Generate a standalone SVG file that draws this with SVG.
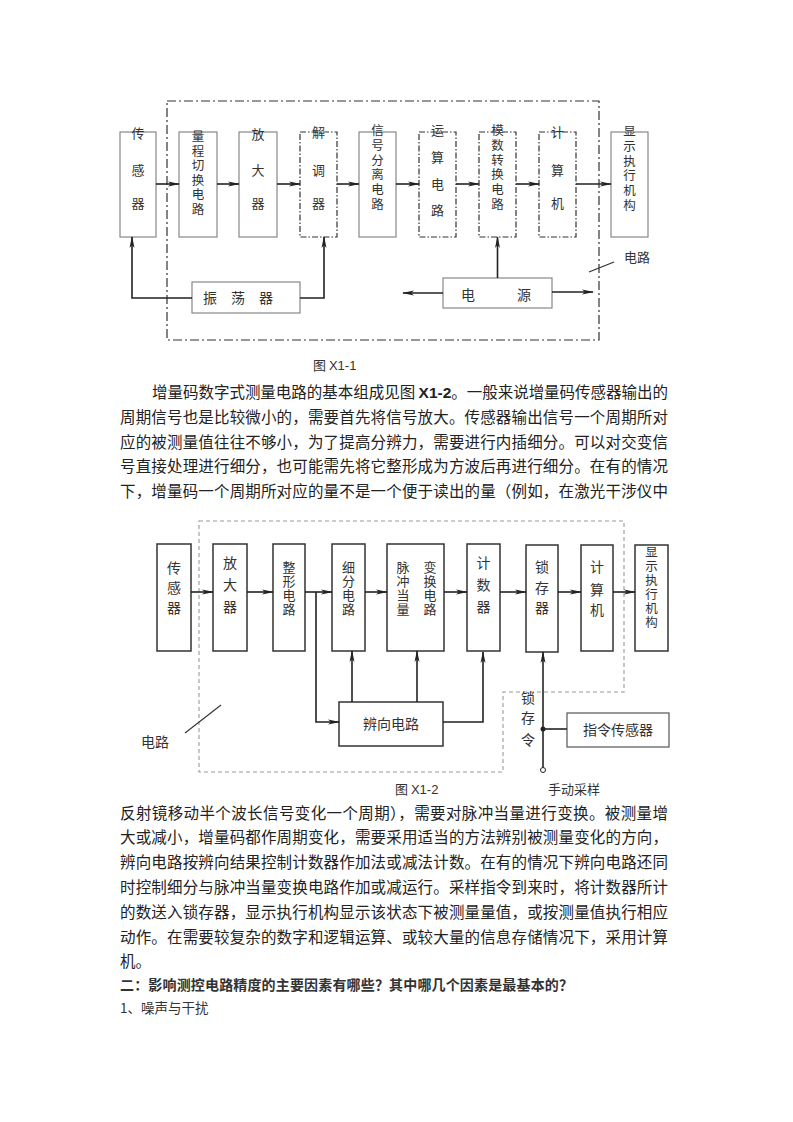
<svg xmlns="http://www.w3.org/2000/svg" width="793" height="1122" viewBox="0 0 793 1122">
<style>
text{font-family:"Noto Sans CJK SC","Noto Sans CJK JP",sans-serif;fill:#333}
.b1{fill:#fff;stroke:#888;stroke-width:1.2}
.dd{fill:#fff;stroke:#333;stroke-width:1.2;stroke-dasharray:6 2 1.5 2}
.b2{fill:#fff;stroke:#333;stroke-width:1.5}
.c{fill:none;stroke:#222;stroke-width:1.6}
.t1{font-size:13px;text-anchor:middle}
.t3{font-size:12.5px;text-anchor:middle}
.t2{font-size:14px;text-anchor:middle}
.p{font-size:15.5px;fill:#222}
.lab{font-size:13px}
</style>
<defs>
<marker id="ah" markerWidth="12" markerHeight="6" refX="11" refY="3" orient="auto" markerUnits="userSpaceOnUse">
<path d="M0,0.5 L12,3 L0,5.5 L3,3 Z" fill="#222"/>
</marker>
</defs>
<rect width="793" height="1122" fill="#fff"/>

<!-- Diagram 1 boundary -->
<rect x="167" y="101" width="432" height="239" fill="none" stroke="#333" stroke-width="1.2" stroke-dasharray="9 3 2 3"/>

<g id="d1-sensor"><rect class="b1" x="120" y="132" width="36" height="105"/>
<text class="t1"><tspan x="138" y="138">传</tspan><tspan x="138" y="175">感</tspan><tspan x="138" y="208">器</tspan></text></g>
<g id="d1-range"><rect class="b1" x="179" y="132" width="38" height="105"/>
<text class="t3"><tspan x="198" y="141">量</tspan><tspan x="198" y="155.5">程</tspan><tspan x="198" y="170">切</tspan><tspan x="198" y="184.5">换</tspan><tspan x="198" y="199">电</tspan><tspan x="198" y="213.5">路</tspan></text></g>
<g id="d1-amp"><rect class="b1" x="239" y="132" width="38" height="105"/>
<text class="t1"><tspan x="258" y="139">放</tspan><tspan x="258" y="175">大</tspan><tspan x="258" y="208">器</tspan></text></g>
<g id="d1-demod"><rect class="dd" x="300" y="132" width="37" height="105"/>
<text class="t1"><tspan x="318.5" y="137">解</tspan><tspan x="318.5" y="175">调</tspan><tspan x="318.5" y="208">器</tspan></text></g>
<g id="d1-sep"><rect class="b1" x="359" y="132" width="37" height="105"/>
<text class="t3"><tspan x="377.5" y="135">信</tspan><tspan x="377.5" y="149.8">号</tspan><tspan x="377.5" y="164.6">分</tspan><tspan x="377.5" y="179.4">离</tspan><tspan x="377.5" y="194.2">电</tspan><tspan x="377.5" y="209">路</tspan></text></g>
<g id="d1-calc"><rect class="dd" x="419" y="132" width="37" height="105"/>
<text class="t1"><tspan x="437.5" y="135">运</tspan><tspan x="437.5" y="162">算</tspan><tspan x="437.5" y="189">电</tspan><tspan x="437.5" y="215">路</tspan></text></g>
<g id="d1-adc"><rect class="dd" x="479" y="132" width="37" height="105"/>
<text class="t3"><tspan x="497.5" y="135">模</tspan><tspan x="497.5" y="149.8">数</tspan><tspan x="497.5" y="164.6">转</tspan><tspan x="497.5" y="179.4">换</tspan><tspan x="497.5" y="194.2">电</tspan><tspan x="497.5" y="209">路</tspan></text></g>
<g id="d1-comp"><rect class="dd" x="539" y="132" width="37" height="105"/>
<text class="t1"><tspan x="557.5" y="137">计</tspan><tspan x="557.5" y="175">算</tspan><tspan x="557.5" y="208">机</tspan></text></g>
<g id="d1-disp"><rect class="b1" x="611" y="132" width="37" height="105"/>
<text class="t3"><tspan x="629.5" y="136">显</tspan><tspan x="629.5" y="150.8">示</tspan><tspan x="629.5" y="165.6">执</tspan><tspan x="629.5" y="180.4">行</tspan><tspan x="629.5" y="195.2">机</tspan><tspan x="629.5" y="210">构</tspan></text></g>
<g id="d1-osc"><rect class="b1" x="192" y="282" width="108" height="31"/>
<text class="t2"><tspan x="210" y="303">振</tspan><tspan x="238" y="303">荡</tspan><tspan x="266" y="303">器</tspan></text></g>
<g id="d1-power"><rect class="b1" x="443" y="278" width="109" height="30"/>
<text class="t2"><tspan x="468" y="300">电</tspan><tspan x="524" y="300">源</tspan></text></g>
<text class="lab" x="624" y="262">电路</text>

<g id="d1-connectors">
<path class="c" d="M156,184 H179" marker-end="url(#ah)"/>
<path class="c" d="M217,184 H239" marker-end="url(#ah)"/>
<path class="c" d="M277,184 H300" marker-end="url(#ah)"/>
<path class="c" d="M337,184 H359" marker-end="url(#ah)"/>
<path class="c" d="M396,184 H419" marker-end="url(#ah)"/>
<path class="c" d="M456,184 H479" marker-end="url(#ah)"/>
<path class="c" d="M516,184 H539" marker-end="url(#ah)"/>
<path class="c" d="M576,184 H611" marker-end="url(#ah)"/>
<path class="c" d="M192,298 H132 V237" marker-end="url(#ah)"/>
<path class="c" d="M300,298 H324 V237" marker-end="url(#ah)"/>
<path class="c" d="M497.5,278 V237" marker-end="url(#ah)"/>
<path class="c" d="M443,293 H403" marker-end="url(#ah)"/>
<path class="c" d="M552,292 H593" marker-end="url(#ah)"/>
<path d="M589,272 L614,262" stroke="#333" stroke-width="1.2"/>
</g>
<text class="lab" x="313" y="370">图 <tspan font-family="Liberation Sans,sans-serif">X1-1</tspan></text>

<!-- Paragraph 1 -->
<text class="p" x="152" y="398" textLength="516" lengthAdjust="spacing">增量码数字式测量电路的基本组成见图 <tspan font-family="Liberation Sans,sans-serif" font-weight="bold">X1-2</tspan>。一般来说增量码传感器输出的</text>
<text class="p" x="120" y="423" textLength="548" lengthAdjust="spacing">周期信号也是比较微小的，需要首先将信号放大。传感器输出信号一个周期所对</text>
<text class="p" x="120" y="448" textLength="548" lengthAdjust="spacing">应的被测量值往往不够小，为了提高分辨力，需要进行内插细分。可以对交变信</text>
<text class="p" x="120" y="472" textLength="548" lengthAdjust="spacing">号直接处理进行细分，也可能需先将它整形成为方波后再进行细分。在有的情况</text>
<text class="p" x="120" y="497" textLength="548" lengthAdjust="spacing">下，增量码一个周期所对应的量不是一个便于读出的量（例如，在激光干涉仪中</text>

<!-- Diagram 2 boundary -->
<path d="M199,521 H624 V692 H503 V772 H199 Z" fill="none" stroke="#999" stroke-width="1.1" stroke-dasharray="4 3"/>

<g id="d2-sensor"><rect class="b2" x="157" y="544" width="34" height="107"/>
<text class="t2"><tspan x="174" y="573">传</tspan><tspan x="174" y="593">感</tspan><tspan x="174" y="613">器</tspan></text></g>
<g id="d2-amp"><rect class="b2" x="213" y="544" width="34" height="107"/>
<text class="t2"><tspan x="230" y="568">放</tspan><tspan x="230" y="590">大</tspan><tspan x="230" y="612">器</tspan></text></g>
<g id="d2-shape"><rect class="b2" x="273" y="544" width="32" height="107"/>
<text class="t1"><tspan x="289" y="572">整</tspan><tspan x="289" y="586">形</tspan><tspan x="289" y="600">电</tspan><tspan x="289" y="614">路</tspan></text></g>
<g id="d2-subdiv"><rect class="b2" x="332" y="544" width="33" height="107"/>
<text class="t1"><tspan x="348.5" y="572">细</tspan><tspan x="348.5" y="586">分</tspan><tspan x="348.5" y="600">电</tspan><tspan x="348.5" y="614">路</tspan></text></g>
<g id="d2-pulse"><rect class="b2" x="387" y="544" width="57" height="107"/>
<text class="t1"><tspan x="403" y="572">脉</tspan><tspan x="403" y="586">冲</tspan><tspan x="403" y="600">当</tspan><tspan x="403" y="614">量</tspan></text>
<text class="t1"><tspan x="430" y="572">变</tspan><tspan x="430" y="586">换</tspan><tspan x="430" y="600">电</tspan><tspan x="430" y="614">路</tspan></text></g>
<g id="d2-counter"><rect class="b2" x="467" y="544" width="33" height="107"/>
<text class="t2"><tspan x="483.5" y="568">计</tspan><tspan x="483.5" y="590">数</tspan><tspan x="483.5" y="612">器</tspan></text></g>
<g id="d2-latch"><rect class="b2" x="526" y="545" width="32" height="107"/>
<text class="t2"><tspan x="542" y="572">锁</tspan><tspan x="542" y="593">存</tspan><tspan x="542" y="613">器</tspan></text></g>
<g id="d2-comp"><rect class="b2" x="581" y="545" width="32" height="106"/>
<text class="t2"><tspan x="597" y="572">计</tspan><tspan x="597" y="595">算</tspan><tspan x="597" y="615">机</tspan></text></g>
<g id="d2-disp"><rect class="b2" x="635" y="545" width="33" height="106"/>
<text class="t3"><tspan x="651.5" y="557">显</tspan><tspan x="651.5" y="571">示</tspan><tspan x="651.5" y="585">执</tspan><tspan x="651.5" y="599">行</tspan><tspan x="651.5" y="613">机</tspan><tspan x="651.5" y="627">构</tspan></text></g>
<g id="d2-dir"><rect class="b2" x="339" y="702" width="104" height="44"/>
<text class="t2" x="391" y="729">辨向电路</text></g>
<g id="d2-cmd"><rect x="567" y="713" width="102" height="34" fill="#fff" stroke="#555" stroke-width="1.2"/>
<text class="t2" x="618" y="735">指令传感器</text></g>
<text class="t2"><tspan x="528" y="703">锁</tspan><tspan x="528" y="723">存</tspan><tspan x="528" y="745">令</tspan></text>
<text class="lab" x="548" y="794">手动采样</text>
<text class="t2" x="155" y="747" text-anchor="start">电路</text>

<g id="d2-connectors">
<path class="c" d="M191,592 H213" marker-end="url(#ah)"/>
<path class="c" d="M247,592 H273" marker-end="url(#ah)"/>
<path class="c" d="M305,592 H332" marker-end="url(#ah)"/>
<path class="c" d="M365,592 H387" marker-end="url(#ah)"/>
<path class="c" d="M444,592 H467" marker-end="url(#ah)"/>
<path class="c" d="M500,592 H526" marker-end="url(#ah)"/>
<path class="c" d="M558,592 H581" marker-end="url(#ah)"/>
<path class="c" d="M613,592 H635" marker-end="url(#ah)"/>
<path class="c" d="M316,592 V722 H339" marker-end="url(#ah)"/>
<path class="c" d="M352,702 V651" marker-end="url(#ah)"/>
<path class="c" d="M417,702 V651" marker-end="url(#ah)"/>
<path class="c" d="M443,722 H483 V652" marker-end="url(#ah)"/>
<path class="c" d="M543,768 V652" marker-end="url(#ah)"/>
<path class="c" d="M543,729 H567"/>
<circle cx="543" cy="729" r="2.5" fill="#222"/>
<circle cx="543" cy="770" r="2.5" fill="#fff" stroke="#222" stroke-width="1"/>
<path d="M185,733 L221,705" stroke="#333" stroke-width="1.1"/>
</g>
<text class="lab" x="395" y="794">图 <tspan font-family="Liberation Sans,sans-serif">X1-2</tspan></text>

<!-- Paragraph 2 -->
<text class="p" x="120" y="819" textLength="548" lengthAdjust="spacing">反射镜移动半个波长信号变化一个周期），需要对脉冲当量进行变换。被测量增</text>
<text class="p" x="120" y="843" textLength="548" lengthAdjust="spacing">大或减小，增量码都作周期变化，需要采用适当的方法辨别被测量变化的方向，</text>
<text class="p" x="120" y="868" textLength="548" lengthAdjust="spacing">辨向电路按辨向结果控制计数器作加法或减法计数。在有的情况下辨向电路还同</text>
<text class="p" x="120" y="893" textLength="548" lengthAdjust="spacing">时控制细分与脉冲当量变换电路作加或减运行。采样指令到来时，将计数器所计</text>
<text class="p" x="120" y="918" textLength="548" lengthAdjust="spacing">的数送入锁存器，显示执行机构显示该状态下被测量量值，或按测量值执行相应</text>
<text class="p" x="120" y="943" textLength="548" lengthAdjust="spacing">动作。在需要较复杂的数字和逻辑运算、或较大量的信息存储情况下，采用计算</text>
<text class="p" x="120" y="967">机。</text>
<text x="120" y="990" font-size="14" font-weight="bold" fill="#111" textLength="453" lengthAdjust="spacing">二：影响测控电路精度的主要因素有哪些？其中哪几个因素是最基本的？</text>
<text x="120" y="1013" font-size="13.5" fill="#333">1、噪声与干扰</text>
</svg>
